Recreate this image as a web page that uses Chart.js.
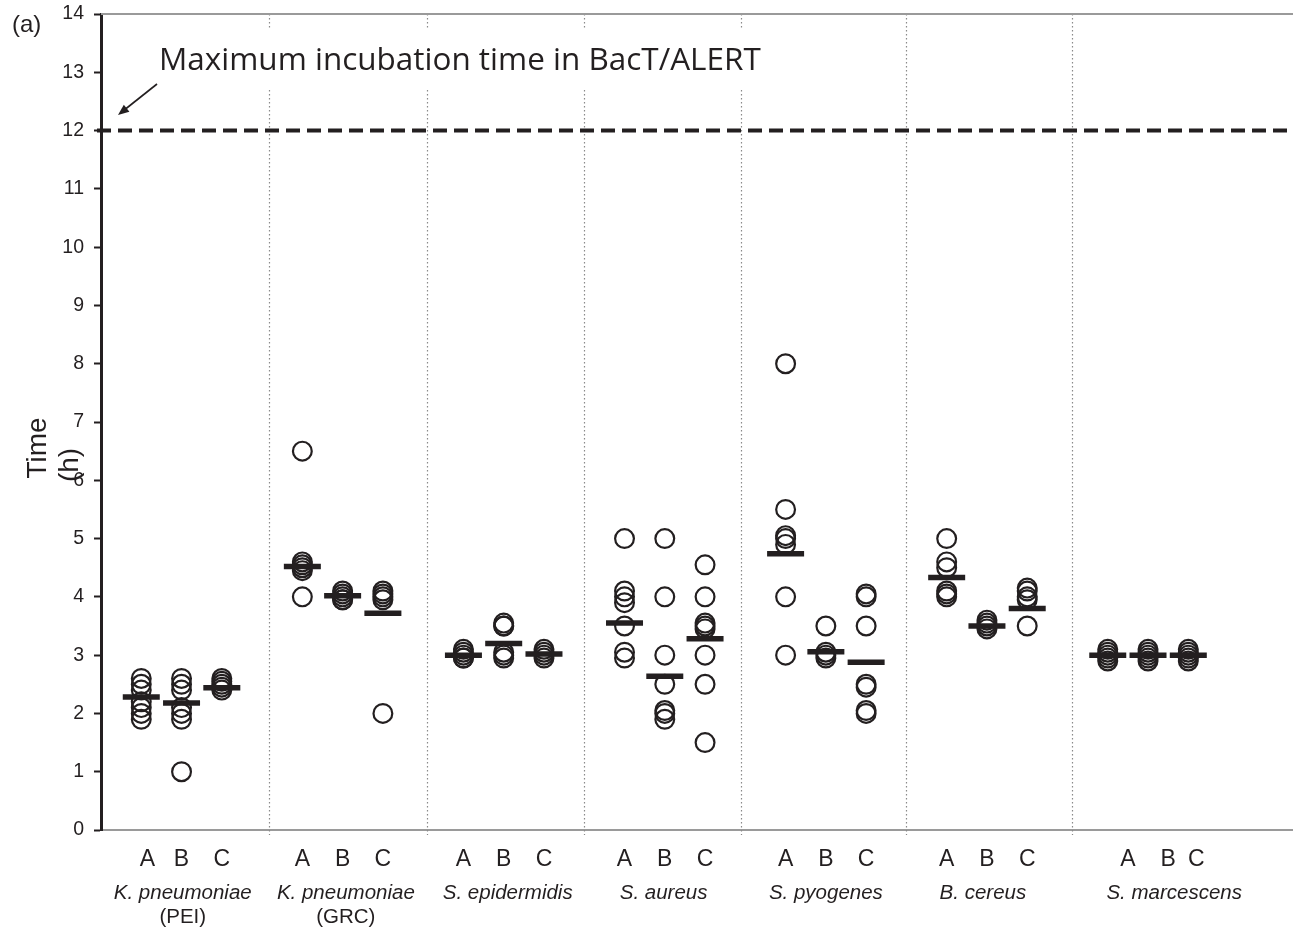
<!DOCTYPE html>
<html>
<head>
<meta charset="utf-8">
<script src="https://cdn.jsdelivr.net/npm/chart.js@4.4.1/dist/chart.umd.min.js"></script>
<style>
  html, body { margin: 0; padding: 0; background: #ffffff; }
  #chart { display: block; }
</style>
</head>
<body>
<canvas id="chart" width="1293" height="928"></canvas>
<script>
// Detection time (h) per strain and bottle type A/B/C
const bottleTypes = ['A', 'B', 'C'];
const speciesNames = ['K. pneumoniae', 'K. pneumoniae', 'S. epidermidis', 'S. aureus', 'S. pyogenes', 'B. cereus', 'S. marcescens'];
const speciesSubtitles = ['(PEI)', '(GRC)', '', '', '', '', ''];
const yTicks = [0, 1, 2, 3, 4, 5, 6, 7, 8, 9, 10, 11, 12, 13, 14];
const maxIncubationHours = 12;

const kPneumoniaePEI = [[2.6, 2.5, 2.4, 2.2, 2.1, 2.0, 1.9], [2.6, 2.5, 2.4, 2.1, 2.0, 1.9, 1.0], [2.6, 2.55, 2.5, 2.45, 2.4]];
const kPneumoniaeGRC = [[6.5, 4.6, 4.55, 4.5, 4.45, 4.0], [4.1, 4.05, 4.0, 3.95, 3.95], [4.1, 4.05, 4.0, 3.95, 2.0]];
const sEpidermidis   = [[3.1, 3.05, 3.0, 2.95, 2.95], [3.55, 3.5, 3.5, 3.05, 3.0, 2.95], [3.1, 3.05, 3.0, 2.95]];
const sAureus        = [[5.0, 4.1, 4.0, 3.9, 3.5, 3.05, 2.95], [5.0, 4.0, 3.0, 2.5, 2.05, 2.0, 1.9], [4.55, 4.0, 3.55, 3.5, 3.45, 3.0, 2.5, 1.5]];
const sPyogenes      = [[8.0, 5.5, 5.05, 5.0, 4.9, 4.0, 3.0], [3.5, 3.05, 3.0, 2.95], [4.05, 4.0, 3.5, 2.5, 2.45, 2.05, 2.0]];
const bCereus        = [[5.0, 4.6, 4.5, 4.1, 4.05, 4.0], [3.6, 3.55, 3.5, 3.45], [4.15, 4.1, 4.0, 3.95, 3.5]];
const sMarcescens    = [[3.1, 3.05, 3.0, 2.95, 2.9], [3.1, 3.05, 3.0, 2.95, 2.9], [3.1, 3.05, 3.0, 2.95, 2.9]];

// Central value bars per bottle type
const kPneumoniaePEIBars = [2.28, 2.18, 2.44];
const kPneumoniaeGRCBars = [4.52, 4.02, 3.72];
const sEpidermidisBars   = [3.0, 3.2, 3.02];
const sAureusBars        = [3.55, 2.64, 3.28];
const sPyogenesBars      = [4.74, 3.06, 2.88];
const bCereusBars        = [4.33, 3.5, 3.8];
const sMarcescensBars    = [3.0, 3.0, 3.0];

const allSpecies = [kPneumoniaePEI, kPneumoniaeGRC, sEpidermidis, sAureus, sPyogenes, bCereus, sMarcescens];
const allBars = [kPneumoniaePEIBars, kPneumoniaeGRCBars, sEpidermidisBars, sAureusBars, sPyogenesBars, bCereusBars, sMarcescensBars];

// Layout: each species occupies 4 units on the x axis, bottles at offsets 1..3
const X_MAX = 29.6;
const colX = (g, k) => 4 * g + k + 1;
const dividerX = [4.17, 8.09, 12.0, 15.9, 20.0, 24.1];
const nameX = [2.03, 6.08, 10.1, 13.97, 18.0, 21.9, 26.65];
const labelShift = [[0.15, 0, 0], [0, 0, 0], [0, 0, 0], [0, 0, 0], [0, 0, 0], [0, 0, 0], [0.5, 0.5, 0.2]];

const INK = '#231f20';

const circlePoints = [];
const barPoints = [];
allSpecies.forEach((sp, g) => {
  sp.forEach((vals, k) => {
    vals.forEach(v => circlePoints.push({ x: colX(g, k), y: v }));
  });
});
allBars.forEach((bars, g) => {
  bars.forEach((v, k) => barPoints.push({ x: colX(g, k), y: v }));
});

const decorations = {
  id: 'decorations',
  beforeDatasetsDraw(chart) {
    const { ctx, chartArea, scales } = chart;
    const xs = scales.x, ys = scales.y;
    ctx.save();
    // dotted dividers between species
    ctx.strokeStyle = '#8a8a8a';
    ctx.lineWidth = 1.2;
    ctx.setLineDash([1.5, 2.5]);
    dividerX.forEach(d => {
      const px = Math.round(xs.getPixelForValue(d)) + 0.5;
      ctx.beginPath();
      ctx.moveTo(px, chartArea.top);
      ctx.lineTo(px, chartArea.bottom + 5);
      ctx.stroke();
    });
    ctx.setLineDash([]);
    // top frame line
    ctx.strokeStyle = '#9a9a9a';
    ctx.lineWidth = 2;
    ctx.beginPath();
    ctx.moveTo(chartArea.left, chartArea.top);
    ctx.lineTo(chartArea.right, chartArea.top);
    ctx.stroke();
    // maximum incubation time line
    const y12 = ys.getPixelForValue(maxIncubationHours);
    ctx.strokeStyle = INK;
    ctx.lineWidth = 4;
    ctx.setLineDash([14, 7]);
    ctx.beginPath();
    ctx.moveTo(chartArea.left - 4, y12);
    ctx.lineTo(chartArea.right, y12);
    ctx.stroke();
    ctx.setLineDash([]);

    // annotation text with white backing
    const title = 'Maximum incubation time in BacT/ALERT';
    ctx.font = '30px "Open Sans"';
    const w30 = ctx.measureText(title).width;
    const size = 30 * 602 / w30;
    ctx.font = size.toFixed(2) + 'px "Open Sans"';
    ctx.fillStyle = '#ffffff';
    ctx.fillRect(150, 28, 625, 60);
    ctx.fillStyle = INK;
    ctx.textAlign = 'left';
    ctx.textBaseline = 'alphabetic';
    ctx.fillText(title, 159, 70);

    // arrow pointing at the line
    const tipX = 118, tipY = 115, tailX = 157, tailY = 84;
    ctx.strokeStyle = INK;
    ctx.lineWidth = 1.6;
    ctx.beginPath();
    ctx.moveTo(tailX, tailY);
    ctx.lineTo(tipX + 5, tipY - 4);
    ctx.stroke();
    const ang = Math.atan2(tipY - tailY, tipX - tailX);
    const hl = 11, hw = 4.5;
    ctx.beginPath();
    ctx.moveTo(tipX, tipY);
    ctx.lineTo(tipX - hl * Math.cos(ang) + hw * Math.sin(ang), tipY - hl * Math.sin(ang) - hw * Math.cos(ang));
    ctx.lineTo(tipX - hl * Math.cos(ang) - hw * Math.sin(ang), tipY - hl * Math.sin(ang) + hw * Math.cos(ang));
    ctx.closePath();
    ctx.fillStyle = INK;
    ctx.fill();
    ctx.restore();
  },
  afterDraw(chart) {
    const { ctx, scales } = chart;
    const xs = scales.x;
    ctx.save();
    ctx.fillStyle = INK;
    // bottle labels
    ctx.font = '23px "Liberation Sans", Arial, sans-serif';
    ctx.textAlign = 'center';
    ctx.textBaseline = 'alphabetic';
    speciesNames.forEach((n, g) => {
      bottleTypes.forEach((b, k) => {
        ctx.fillText(b, xs.getPixelForValue(colX(g, k) + labelShift[g][k]), 866);
      });
    });
    // species names
    const nameFont = 'italic 20.5px "Liberation Sans", Arial, sans-serif';
    const subFont = '20.5px "Liberation Sans", Arial, sans-serif';
    speciesNames.forEach((n, g) => {
      const px = xs.getPixelForValue(nameX[g]);
      ctx.font = nameFont;
      ctx.fillText(n, px, 899);
      if (speciesSubtitles[g]) {
        ctx.font = subFont;
        ctx.fillText(speciesSubtitles[g], px, 923);
      }
    });
    // panel letter
    ctx.font = '24px "Liberation Sans", Arial, sans-serif';
    ctx.textAlign = 'left';
    ctx.fillText('(a)', 12, 32);
    // axis title, two rotated lines
    ctx.font = '28px "Liberation Sans", Arial, sans-serif';
    ctx.textAlign = 'center';
    ctx.save();
    ctx.translate(46, 448);
    ctx.rotate(-Math.PI / 2);
    ctx.fillText('Time', 0, 0);
    ctx.restore();
    ctx.save();
    ctx.translate(78, 465);
    ctx.rotate(-Math.PI / 2);
    ctx.fillText('(h)', 0, 0);
    ctx.restore();
    ctx.restore();
  }
};

new Chart(document.getElementById('chart'), {
  type: 'scatter',
  data: {
    datasets: [
      {
        label: 'Time',
        data: circlePoints,
        pointStyle: 'circle',
        pointRadius: 9.4,
        borderWidth: 2.2,
        borderColor: INK,
        backgroundColor: 'rgba(0,0,0,0)',
        order: 2
      },
      {
        label: 'Central value',
        data: barPoints,
        pointStyle: 'line',
        pointRadius: 18.5,
        borderWidth: 5.5,
        borderColor: INK,
        backgroundColor: INK,
        order: 1
      }
    ]
  },
  options: {
    responsive: false,
    devicePixelRatio: 1,
    animation: false,
    events: [],
    layout: { autoPadding: false, padding: { top: 14, right: 0, bottom: 0, left: 0 } },
    plugins: { legend: { display: false }, tooltip: { enabled: false } },
    scales: {
      x: {
        type: 'linear',
        min: 0,
        max: X_MAX,
        ticks: { display: false },
        grid: { display: false },
        border: { display: true, color: '#9a9a9a', width: 2 },
        afterFit(scale) {
          scale.height = 98;
          scale.paddingLeft = 0;
          scale.paddingRight = 0;
        }
      },
      y: {
        min: 0,
        max: 14,
        afterBuildTicks(scale) { scale.ticks = yTicks.map(v => ({ value: v })); },
        ticks: {
          color: INK,
          font: { family: '"Liberation Sans", Arial, sans-serif', size: 19.5 },
          padding: 10
        },
        grid: { drawOnChartArea: false, tickLength: 7, tickColor: INK, tickWidth: 2 },
        border: { display: true, color: INK, width: 3 },
        afterFit(scale) {
          scale.width = 101;
          scale.paddingTop = 0;
          scale.paddingBottom = 0;
        }
      }
    }
  },
  plugins: [decorations]
});
</script>
</body>
</html>
